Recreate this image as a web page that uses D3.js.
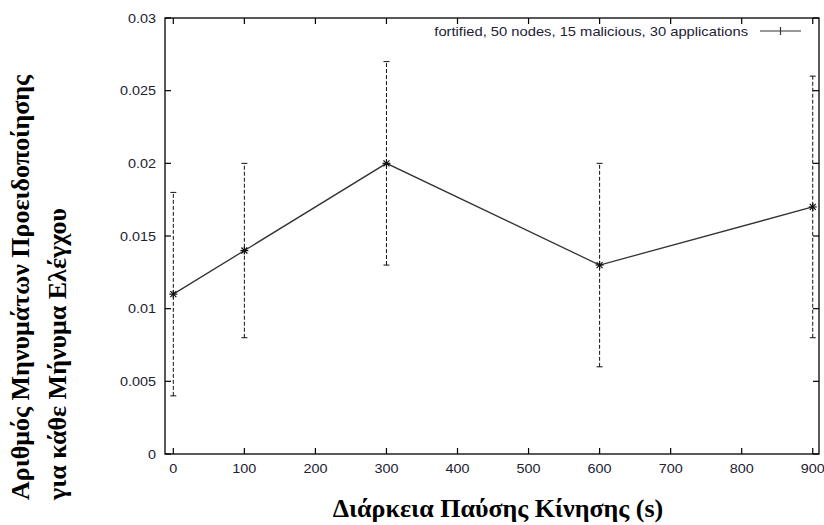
<!DOCTYPE html>
<html>
<head>
<meta charset="utf-8">
<script src="https://cdn.jsdelivr.net/npm/d3@7"></script>
<style>
  html, body { margin: 0; padding: 0; background: #fff; }
  svg { display: block; }
</style>
</head>
<body>
<svg id="chart" width="824" height="525"></svg>
<script>
// Pause time (s) and warning messages per control message
const pauseTimes = [0, 100, 300, 600, 900];
const meanValues = [0.011, 0.014, 0.020, 0.013, 0.017];
const lowValues  = [0.004, 0.008, 0.013, 0.006, 0.008];
const highValues = [0.018, 0.020, 0.027, 0.020, 0.026];
const xTicks = [0, 100, 200, 300, 400, 500, 600, 700, 800, 900];
const yTicks = [0, 0.005, 0.01, 0.015, 0.02, 0.025, 0.03];
const seriesName = "fortified, 50 nodes, 15 malicious, 30 applications";
const xTitle = "Διάρκεια Παύσης Κίνησης (s)";
const yTitleLines = ["Αριθμός Μηνυμάτων Προειδοποίησης", "για κάθε Μήνυμα Ελέγχου"];

const svg = d3.select("#chart");
const L = 165, R = 819, T = 18, B = 454;

const x = d3.scaleLinear().domain([-11.7, 908.8]).range([L, R]);
const y = d3.scaleLinear().domain([0, 0.03]).range([B, T]);

const tickFont = "Liberation Sans, Arial, sans-serif";
const serif = "Liberation Serif, Times New Roman, serif";
const tickColor = "#222233";
const SX = 1.2; // horizontal stretch of sans labels

// text helper: horizontally stretched label anchored at (px, py)
function label(px, py, str, anchor, size, sx) {
  return svg.append("text")
    .attr("transform", `translate(${px},${py}) scale(${sx},1)`)
    .attr("text-anchor", anchor).attr("font-family", tickFont).attr("font-size", size)
    .attr("fill", tickColor).text(str);
}

// frame
svg.append("rect")
  .attr("x", L).attr("y", T).attr("width", R - L).attr("height", B - T)
  .attr("fill", "none").attr("stroke", "#000").attr("stroke-width", 1.3);

const tl = 6;
// x ticks (bottom and top, inward)
const gx = svg.append("g").attr("stroke", "#000").attr("stroke-width", 1.2);
xTicks.forEach(v => {
  gx.append("line").attr("x1", x(v)).attr("x2", x(v)).attr("y1", B).attr("y2", B - tl);
  gx.append("line").attr("x1", x(v)).attr("x2", x(v)).attr("y1", T).attr("y2", T + tl);
  label(x(v), B + 19, d3.format("d")(v), "middle", 12, SX);
});
// y ticks (left and right, inward)
const gy = svg.append("g").attr("stroke", "#000").attr("stroke-width", 1.2);
yTicks.forEach(v => {
  gy.append("line").attr("x1", L).attr("x2", L + tl).attr("y1", y(v)).attr("y2", y(v));
  gy.append("line").attr("x1", R).attr("x2", R - tl).attr("y1", y(v)).attr("y2", y(v));
  label(L - 9, y(v) + 4.5, v === 0 ? "0" : String(+v.toFixed(3)), "end", 12, SX);
});

const data = pauseTimes.map((p, i) => ({ p, m: meanValues[i], lo: lowValues[i], hi: highValues[i] }));

// error bars
const eb = svg.append("g").attr("stroke", "#111").attr("stroke-width", 1);
data.forEach(d => {
  eb.append("line").attr("x1", x(d.p)).attr("x2", x(d.p)).attr("y1", y(d.lo)).attr("y2", y(d.hi))
    .attr("stroke-dasharray", "4,2");
  [d.lo, d.hi].forEach(v => {
    eb.append("line").attr("x1", x(d.p) - 3).attr("x2", x(d.p) + 3).attr("y1", y(v)).attr("y2", y(v));
  });
});

// connecting line
svg.append("path")
  .datum(data)
  .attr("d", d3.line().x(d => x(d.p)).y(d => y(d.m)))
  .attr("fill", "none").attr("stroke", "#333").attr("stroke-width", 1.3);

// star markers
const star = (g, cx, cy, r) => {
  g.append("line").attr("x1", cx - r).attr("x2", cx + r).attr("y1", cy).attr("y2", cy);
  g.append("line").attr("x1", cx).attr("x2", cx).attr("y1", cy - r).attr("y2", cy + r);
  g.append("line").attr("x1", cx - r * 0.75).attr("x2", cx + r * 0.75).attr("y1", cy - r * 0.75).attr("y2", cy + r * 0.75);
  g.append("line").attr("x1", cx - r * 0.75).attr("x2", cx + r * 0.75).attr("y1", cy + r * 0.75).attr("y2", cy - r * 0.75);
};
const mk = svg.append("g").attr("stroke", "#111").attr("stroke-width", 1.2);
data.forEach(d => star(mk, x(d.p), y(d.m), 4));

// legend
label(748, 35.5, seriesName, "end", 12.5, 1.18);
svg.append("line").attr("x1", 760).attr("x2", 801).attr("y1", 31).attr("y2", 31)
  .attr("stroke", "#333").attr("stroke-width", 1.2);
svg.append("line").attr("x1", 780.5).attr("x2", 780.5).attr("y1", 27).attr("y2", 35)
  .attr("stroke", "#333").attr("stroke-width", 1.2);

// axis titles
svg.append("text").attr("x", 498).attr("y", 517)
  .attr("text-anchor", "middle").attr("font-family", serif)
  .attr("font-weight", "bold").attr("font-size", 26).attr("fill", "#000").text(xTitle);

const yt = svg.append("text")
  .attr("transform", "translate(0,500) rotate(-90)")
  .attr("text-anchor", "start").attr("font-family", serif)
  .attr("font-weight", "bold").attr("font-size", 26).attr("fill", "#000");
yt.append("tspan").attr("x", 0).attr("y", 29).text(yTitleLines[0]);
yt.append("tspan").attr("x", 0).attr("y", 66).text(yTitleLines[1]);
</script>
</body>
</html>
